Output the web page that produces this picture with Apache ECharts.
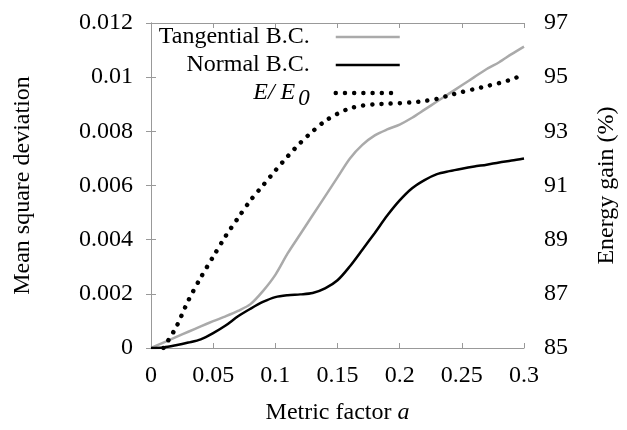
<!DOCTYPE html>
<html>
<head>
<meta charset="utf-8">
<script src="https://cdn.jsdelivr.net/npm/echarts@6/dist/echarts.min.js"></script>
<style>html,body{margin:0;padding:0;background:#fff}#c{width:627px;height:430px}</style>
</head>
<body>
<div id="c"></div>
<script>
const metricFactor = [0,0.01,0.02,0.03,0.04,0.05,0.06,0.07,0.08,0.09,0.10,0.11,0.12,0.13,0.14,0.15,0.16,0.17,0.18,0.19,0.20,0.21,0.22,0.23,0.24,0.25,0.26,0.27,0.28,0.29,0.30];
const tangentialBC = [0,0.0002,0.0004,0.0006,0.0008,0.00099,0.00117,0.00137,0.00162,0.0021,0.0027,0.0035,0.0042,0.0049,0.0056,0.0063,0.0070,0.0075,0.00785,0.00807,0.00825,0.0085,0.0088,0.0091,0.0094,0.0097,0.0100,0.0103,0.01055,0.01085,0.01113];
const normalBC = [0,0.00002,0.0001,0.0002,0.00032,0.00055,0.00083,0.00117,0.00145,0.0017,0.00188,0.00195,0.00198,0.00203,0.0022,0.0025,0.00302,0.00363,0.00425,0.00489,0.00545,0.0059,0.0062,0.00642,0.00653,0.00662,0.0067,0.00677,0.00685,0.00692,0.007];
const energyGain = [null,85.0,85.75,86.75,87.6,88.37,89.13,89.8,90.45,91.0,91.55,92.08,92.57,93.0,93.38,93.65,93.85,93.95,94.0,94.02,94.04,94.07,94.12,94.2,94.33,94.45,94.56,94.67,94.78,94.92,95.1];

const pairs = (ys) => metricFactor.map((x, i) => [x, ys[i]]).filter(p => p[1] !== null);
const FONT = 'Liberation Serif';
const frame = '#999';
const chart = echarts.init(document.getElementById('c'));
chart.setOption({
  animation: false,
  backgroundColor: '#fff',
  grid: {left: 151, right: 99, top: 23, bottom: 80},
  legend: {
    orient: 'vertical', align: 'right', right: 225, top: 23, padding: 0,
    itemGap: 0, itemWidth: 64, itemHeight: 14,
    data: [
      {name: 'Tangential B.C.', lineStyle: {width: 2.5}},
      {name: 'Normal B.C.', lineStyle: {width: 2.5}},
      {name: 'E/E0', lineStyle: {width: 4.5}}
    ],
    itemStyle: {color: 'rgba(0,0,0,0)', borderColor: 'rgba(0,0,0,0)', borderWidth: 0},
    formatter: (n) => n === 'E/E0' ? '{e|E/ E}{s|0}' : n,
    textStyle: {
      fontFamily: FONT, fontSize: 24, color: '#000', lineHeight: 28, padding: [0, 21, 0, 0],
      rich: {
        e: {fontFamily: FONT, fontSize: 24, fontStyle: 'italic', color: '#000'},
        s: {fontFamily: FONT, fontSize: 23, fontStyle: 'italic', color: '#000', padding: [12, 0, 0, 3]}
      }
    }
  },
  xAxis: [
    {
      type: 'value', min: 0, max: 0.3, interval: 0.05, position: 'bottom',
      name: 'Metric factor {i|a}', nameLocation: 'middle', nameGap: 53,
      nameTextStyle: {fontFamily: FONT, fontSize: 24, color: '#000', rich: {i: {fontFamily: FONT, fontSize: 24, fontStyle: 'italic', color: '#000'}}},
      axisLine: {show: true, lineStyle: {color: frame, width: 1}},
      axisTick: {show: true, inside: true, length: 5, lineStyle: {color: frame}},
      axisLabel: {fontFamily: FONT, fontSize: 24, color: '#000', margin: 16},
      splitLine: {show: false}
    },
    {
      type: 'value', min: 0, max: 0.3, interval: 0.05, position: 'top',
      axisLine: {show: true, lineStyle: {color: frame, width: 1}},
      axisTick: {show: true, inside: true, length: 5, lineStyle: {color: frame}},
      axisLabel: {show: false}, splitLine: {show: false}
    }
  ],
  yAxis: [
    {
      type: 'value', min: 0, max: 0.012, interval: 0.002, position: 'left',
      name: 'Mean square deviation', nameLocation: 'middle', nameGap: 116, nameRotate: 90,
      nameTextStyle: {fontFamily: FONT, fontSize: 24, color: '#000'},
      axisLine: {show: true, lineStyle: {color: frame, width: 1}},
      axisTick: {show: true, inside: true, length: 5, lineStyle: {color: frame}},
      axisLabel: {fontFamily: FONT, fontSize: 24, color: '#000', margin: 18},
      splitLine: {show: false}
    },
    {
      type: 'value', min: 85, max: 97, interval: 2, position: 'right',
      name: 'Energy gain (%)', nameLocation: 'middle', nameGap: 71, nameRotate: 90,
      nameTextStyle: {fontFamily: FONT, fontSize: 24, color: '#000'},
      axisLine: {show: true, lineStyle: {color: frame, width: 1}},
      axisTick: {show: true, inside: true, length: 5, lineStyle: {color: frame}},
      axisLabel: {fontFamily: FONT, fontSize: 24, color: '#000', margin: 20},
      splitLine: {show: false}
    }
  ],
  series: [
    {
      name: 'Tangential B.C.', type: 'line', xAxisIndex: 0, yAxisIndex: 0,
      data: pairs(tangentialBC), smooth: 0.3, symbol: 'none',
      lineStyle: {color: '#aaa', width: 2.5}, itemStyle: {color: '#aaa'}
    },
    {
      name: 'Normal B.C.', type: 'line', xAxisIndex: 0, yAxisIndex: 0,
      data: pairs(normalBC), smooth: 0.3, symbol: 'none',
      lineStyle: {color: '#000', width: 2.5}, itemStyle: {color: '#000'}
    },
    {
      name: 'E/E0', type: 'line', xAxisIndex: 0, yAxisIndex: 1,
      data: pairs(energyGain), smooth: 0.3, symbol: 'none',
      lineStyle: {color: '#000', width: 4.5, type: [0.01, 9.2], cap: 'round'}, itemStyle: {color: '#000'}
    }
  ]
});
</script>
</body>
</html>
